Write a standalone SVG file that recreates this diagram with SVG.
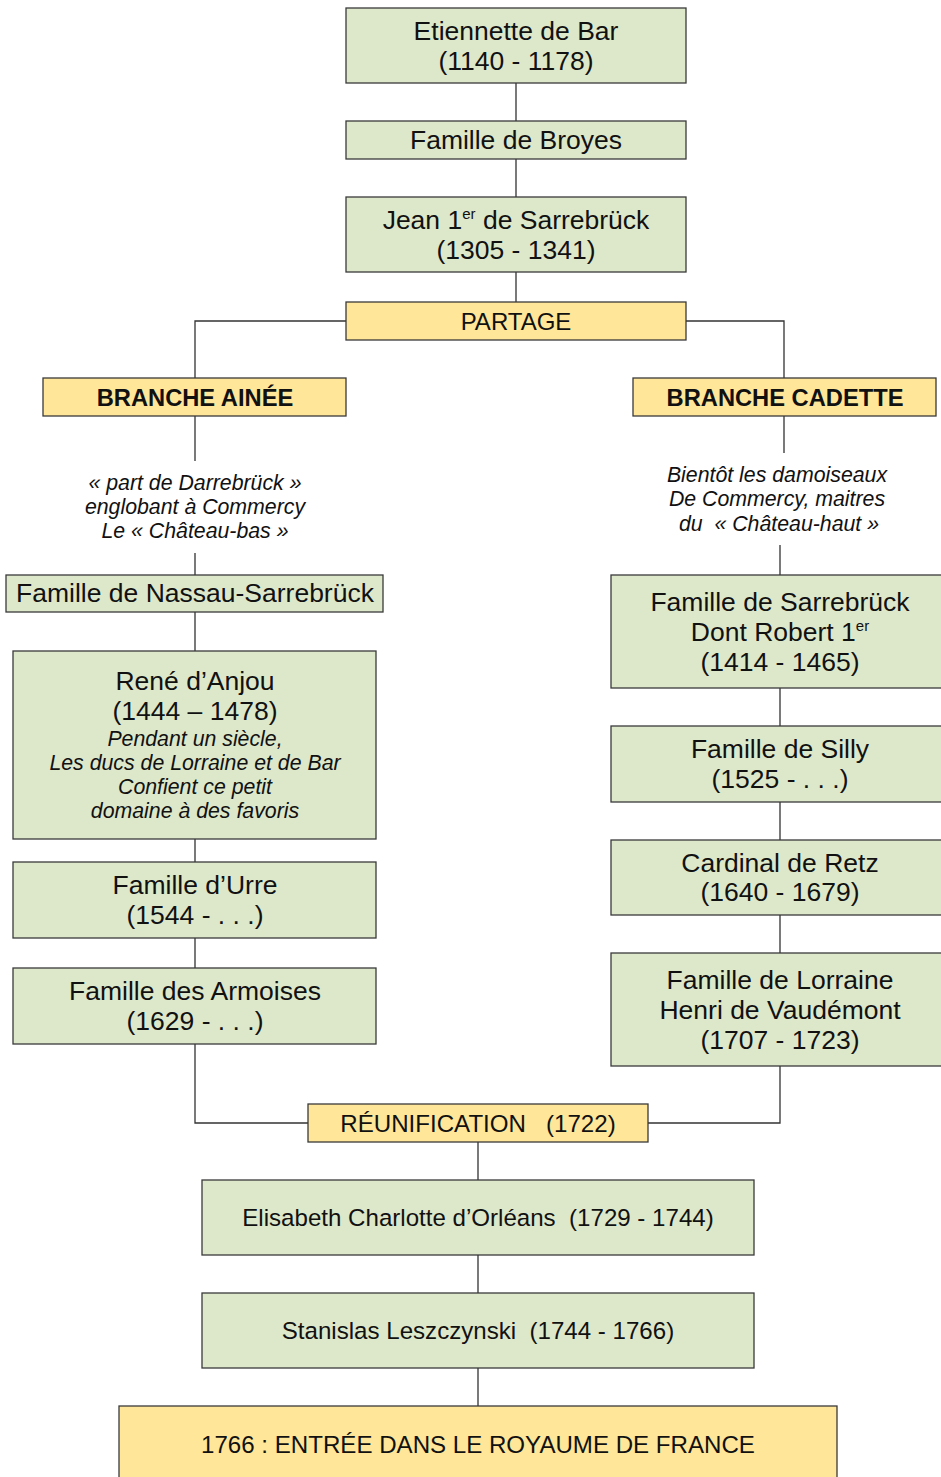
<svg xmlns="http://www.w3.org/2000/svg" width="941" height="1477" viewBox="0 0 941 1477">
<style>
.g{fill:#dde8cb;stroke:#3a3a3a;stroke-width:1.3}
.y{fill:#ffe699;stroke:#3a3a3a;stroke-width:1.3}
.c{fill:none;stroke:#333;stroke-width:1.3}
text{font-family:"Liberation Sans",Arial,sans-serif;fill:#111;text-anchor:middle}
.m{font-size:26.5px}
.p{font-size:24px}
.b{font-size:23.7px;font-weight:bold}
.i{font-size:21.3px;font-style:italic}
.s{font-size:24.1px}
.sup{font-size:15px}
</style>
<rect width="941" height="1477" fill="#fff"/>
<g id="connectors">
<path class="c" d="M516 83V121M516 159V197M516 272V302"/>
<path class="c" d="M346 321H195V378M686 321H784V378"/>
<path class="c" d="M195 416V461M195 553V575M195 612V651M195 839V862M195 938V968"/>
<path class="c" d="M784 416V453M780 545V575M780 688V726M780 802V840M780 915V953"/>
<path class="c" d="M195 1044V1123H308M648 1123H780V1066"/>
<path class="c" d="M478 1142V1180M478 1255V1293M478 1368V1406"/>
</g>
<g id="etiennette"><rect class="g" x="346" y="8" width="340" height="75"/><text class="m" x="516" y="40">Etiennette de Bar</text><text class="m" x="516" y="70">(1140 - 1178)</text></g>
<g id="broyes"><rect class="g" x="346" y="121" width="340" height="38"/><text class="m" x="516" y="149">Famille de Broyes</text></g>
<g id="jean"><rect class="g" x="346" y="197" width="340" height="75"/><text class="m" x="516" y="229">Jean 1<tspan class="sup" dy="-10">er</tspan><tspan dy="10"> de Sarrebrück</tspan></text><text class="m" x="516" y="259">(1305 - 1341)</text></g>
<g id="partage"><rect class="y" x="346" y="302" width="340" height="38"/><text class="p" x="516" y="330">PARTAGE</text></g>
<g id="branche-ainee"><rect class="y" x="43" y="378" width="303" height="38"/><text class="b" x="195" y="406">BRANCHE AINÉE</text></g>
<g id="branche-cadette"><rect class="y" x="633" y="378" width="303" height="38"/><text class="b" x="785" y="406">BRANCHE CADETTE</text></g>
<g id="note-ainee"><text class="i" x="195" y="490">« part de Darrebrück »</text><text class="i" x="195" y="514">englobant à Commercy</text><text class="i" x="195" y="538">Le « Château-bas »</text></g>
<g id="note-cadette"><text class="i" x="777" y="482">Bientôt les damoiseaux</text><text class="i" x="777" y="506">De Commercy, maitres</text><text class="i" x="779" y="531" xml:space="preserve">du  « Château-haut »</text></g>
<g id="nassau"><rect class="g" x="6" y="575" width="377" height="37"/><text class="m" x="195" y="602">Famille de Nassau-Sarrebrück</text></g>
<g id="rene"><rect class="g" x="13" y="651" width="363" height="188"/><text class="m" x="195" y="690">René d’Anjou</text><text class="m" x="195" y="720">(1444 – 1478)</text><text class="i" x="195" y="746">Pendant un siècle,</text><text class="i" x="195" y="770">Les ducs de Lorraine et de Bar</text><text class="i" x="195" y="794">Confient ce petit</text><text class="i" x="195" y="818">domaine à des favoris</text></g>
<g id="urre"><rect class="g" x="13" y="862" width="363" height="76"/><text class="m" x="195" y="894">Famille d’Urre</text><text class="m" x="195" y="924">(1544 - . . .)</text></g>
<g id="armoises"><rect class="g" x="13" y="968" width="363" height="76"/><text class="m" x="195" y="1000">Famille des Armoises</text><text class="m" x="195" y="1030">(1629 - . . .)</text></g>
<g id="sarrebruck"><rect class="g" x="611" y="575" width="338" height="113"/><text class="m" x="780" y="611">Famille de Sarrebrück</text><text class="m" x="780" y="641">Dont Robert 1<tspan class="sup" dy="-10">er</tspan></text><text class="m" x="780" y="671">(1414 - 1465)</text></g>
<g id="silly"><rect class="g" x="611" y="726" width="338" height="76"/><text class="m" x="780" y="758">Famille de Silly</text><text class="m" x="780" y="788">(1525 - . . .)</text></g>
<g id="retz"><rect class="g" x="611" y="840" width="338" height="75"/><text class="m" x="780" y="872">Cardinal de Retz</text><text class="m" x="780" y="901">(1640 - 1679)</text></g>
<g id="lorraine"><rect class="g" x="611" y="953" width="338" height="113"/><text class="m" x="780" y="989">Famille de Lorraine</text><text class="m" x="780" y="1019">Henri de Vaudémont</text><text class="m" x="780" y="1049">(1707 - 1723)</text></g>
<g id="reunification"><rect class="y" x="308" y="1104" width="340" height="38"/><text class="s" x="478" y="1132" xml:space="preserve">RÉUNIFICATION   (1722)</text></g>
<g id="elisabeth"><rect class="g" x="202" y="1180" width="552" height="75"/><text class="s" x="478" y="1226" xml:space="preserve">Elisabeth Charlotte d’Orléans  (1729 - 1744)</text></g>
<g id="stanislas"><rect class="g" x="202" y="1293" width="552" height="75"/><text class="s" x="478" y="1339" xml:space="preserve">Stanislas Leszczynski  (1744 - 1766)</text></g>
<g id="france"><rect class="y" x="119" y="1406" width="718" height="80"/><text class="s" x="478" y="1453">1766 : ENTRÉE DANS LE ROYAUME DE FRANCE</text></g>
</svg>
